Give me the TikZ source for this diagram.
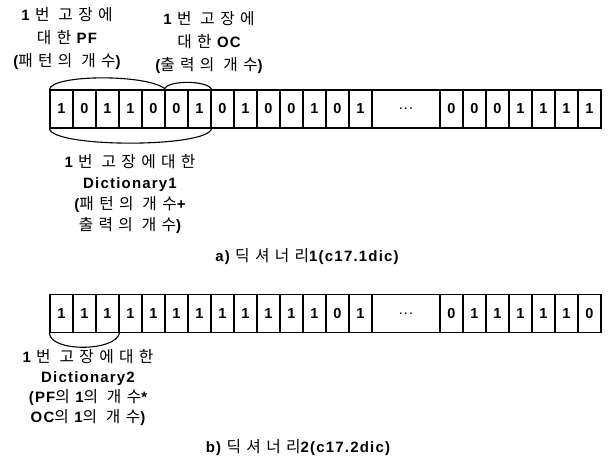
\documentclass[tikz,border=0pt]{standalone}
\usepackage{fontspec}
\setmainfont{Liberation Sans}[LetterSpace=8]
\newfontfamily\kr[LetterSpace=34,Scale=1.05]{Noto Sans CJK KR}
\newcommand\K[1]{{\kr\mdseries #1}}
\begin{document}
\begin{tikzpicture}[x=1pt,y=-1pt,
  cell/.style={draw, line width=1.1pt, minimum width=23pt, minimum height=38pt, inner sep=0pt, font=\bfseries\fontsize{14.5}{15}\selectfont},
  lbl/.style={align=center, font=\bfseries\fontsize{15}{23}\selectfont, inner sep=0pt},
  brace/.style={line width=1.1pt}]
\useasboundingbox (0,0) rectangle (613,470);
% row a
\foreach \v [count=\i] in {1,0,1,1,0,0,1,0,1,0,0,1,0,1}
  \node[cell] (a\i) at ({38.5+23*\i},109) {\v};
\node[cell, minimum width=68pt] (ad) at (406,109) {\mdseries...};
\foreach \v [count=\j from 15] in {0,0,0,1,1,1,1}
  \node[cell] (a\j) at ({106.5+23*\j},109) {\v};
% row b
\foreach \v [count=\i] in {1,1,1,1,1,1,1,1,1,1,1,1,0,1}
  \node[cell] (b\i) at ({38.5+23*\i},313.5) {\v};
\node[cell, minimum width=68pt] (bd) at (406,313.5) {\mdseries...};
\foreach \v [count=\j from 15] in {0,1,1,1,1,1,0}
  \node[cell] (b\j) at ({106.5+23*\j},313.5) {\v};
% braces
\draw[brace] (a1.north west) .. controls (52,74) and (150,74) .. (a5.north east);
\draw[brace] (a6.north west) .. controls (166,80) and (208,80) .. (a7.north east);
\draw[brace] (a1.south west) .. controls (52,148) and (208,148) .. (a7.south east);
\draw[brace] (b1.south west) .. controls (50,352) and (115,352) .. (b3.south east);
% labels
\node[lbl] (pf) at (67,39) {1 \K{번 고장에}\\\K{대한} PF\\(\K{패턴의 개수})};
\node[lbl] (oc) at (209,43) {1 \K{번 고장에}\\\K{대한} OC\\(\K{출력의 개수})};
\node[lbl, font=\bfseries\fontsize{15}{21}\selectfont] (d1) at (130,194) {1 \K{번 고장에대한}\\Dictionary1\\(\K{패턴의 개수}+\\\K{출력의 개수})};
\node[lbl] (ca) at (307,257) {a) \K{딕셔너리}1(c17.1dic)};
\node[lbl, font=\bfseries\fontsize{15}{20}\selectfont] (d2) at (88,388) {1 \K{번 고장에대한}\\Dictionary2\\(PF\K{의} 1\K{의 개수}*\\OC\K{의} 1\K{의 개수})};
\node[lbl] (cb) at (298,448) {b) \K{딕셔너리}2(c17.2dic)};
\end{tikzpicture}
\end{document}
